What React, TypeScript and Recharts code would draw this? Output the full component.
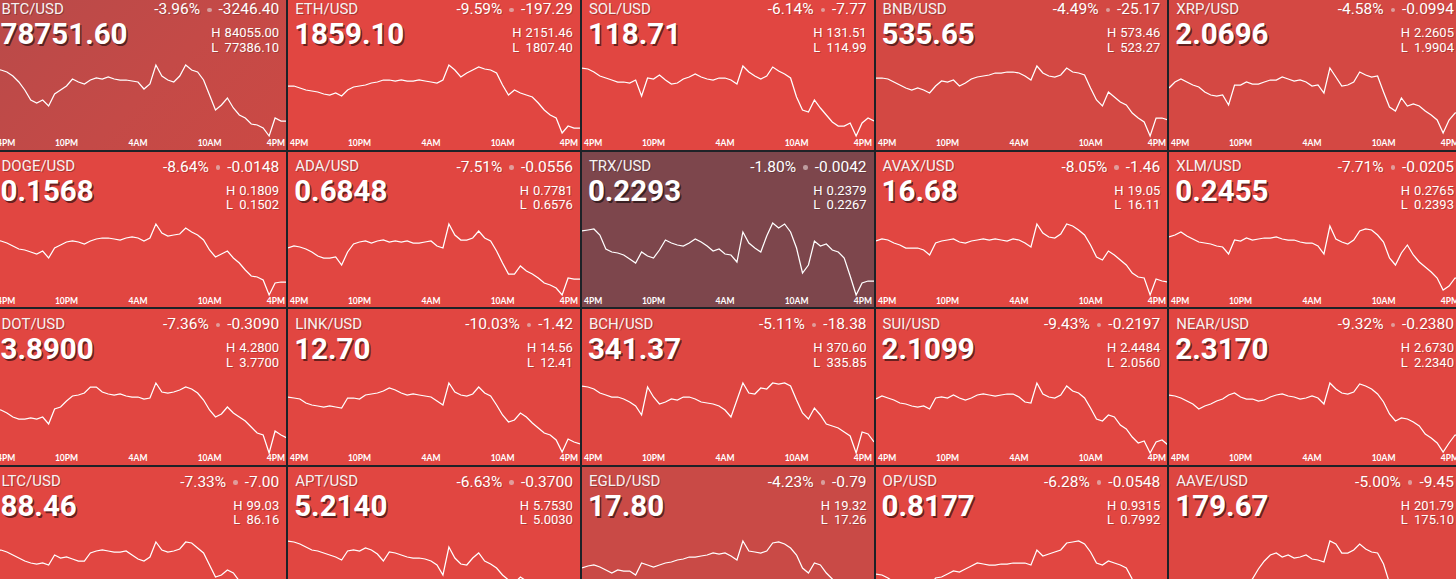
import React from 'react';
import { LineChart, Line, XAxis, YAxis } from 'recharts';

// time in hours since 4PM (30-min steps)
const TIMES = [0, 0.5, 1, 1.5, 2, 2.5, 3, 3.5, 4, 4.5, 5, 5.5, 6, 6.5, 7, 7.5, 8, 8.5, 9, 9.5, 10, 10.5, 11, 11.5, 12, 12.5, 13, 13.5, 14, 14.5, 15, 15.5, 16, 16.5, 17, 17.5, 18, 18.5, 19, 19.5, 20, 20.5, 21, 21.5, 22, 22.5, 23, 23.5, 24, 24.5];
const TICKS = [0, 6, 12, 18, 24];
const TICK_LABELS = ['4PM', '10PM', '4AM', '10AM', '4PM'];

const SYMBOLS = ['BTC/USD', 'ETH/USD', 'SOL/USD', 'BNB/USD', 'XRP/USD', 'DOGE/USD', 'ADA/USD', 'TRX/USD', 'AVAX/USD', 'XLM/USD', 'DOT/USD', 'LINK/USD', 'BCH/USD', 'SUI/USD', 'NEAR/USD', 'LTC/USD', 'APT/USD', 'EGLD/USD', 'OP/USD', 'AAVE/USD'];
const PRICES = ['78751.60', '1859.10', '118.71', '535.65', '2.0696', '0.1568', '0.6848', '0.2293', '16.68', '0.2455', '3.8900', '12.70', '341.37', '2.1099', '2.3170', '88.46', '5.2140', '17.80', '0.8177', '179.67'];
const PCTS = ['-3.96%', '-9.59%', '-6.14%', '-4.49%', '-4.58%', '-8.64%', '-7.51%', '-1.80%', '-8.05%', '-7.71%', '-7.36%', '-10.03%', '-5.11%', '-9.43%', '-9.32%', '-7.33%', '-6.63%', '-4.23%', '-6.28%', '-5.00%'];
const CHANGES = ['-3246.40', '-197.29', '-7.77', '-25.17', '-0.0994', '-0.0148', '-0.0556', '-0.0042', '-1.46', '-0.0205', '-0.3090', '-1.42', '-18.38', '-0.2197', '-0.2380', '-7.00', '-0.3700', '-0.79', '-0.0548', '-9.45'];
const HIGHS = ['84055.00', '2151.46', '131.51', '573.46', '2.2605', '0.1809', '0.7781', '0.2379', '19.05', '0.2765', '4.2800', '14.56', '370.60', '2.4484', '2.6730', '99.03', '5.7530', '19.32', '0.9315', '201.79'];
const LOWS = ['77386.10', '1807.40', '114.99', '523.27', '1.9904', '0.1502', '0.6576', '0.2267', '16.11', '0.2393', '3.7700', '12.41', '335.85', '2.0560', '2.2340', '86.16', '5.0030', '17.26', '0.7992', '175.10'];

// sparkline levels (relative units)
const BTC = [71, 70, 68, 64, 58, 50, 40, 37, 40, 34, 46, 50, 54, 61, 58, 56, 60, 62, 61, 63, 61, 60, 60, 59, 58, 51, 56, 75, 64, 60, 58, 64, 75, 70, 68, 60, 45, 30, 35, 42, 32, 25, 22, 16, 15, 12, 4, 22, 19, 19];
const ETH = [54, 54, 52, 50, 49, 48, 46, 45, 47, 44, 50, 53, 54, 55, 57, 58, 60, 60, 59, 60, 59, 59, 60, 59, 58, 57, 60, 75, 70, 63, 67, 70, 73, 71, 70, 67, 55, 45, 50, 47, 45, 43, 37, 30, 25, 22, 7, 14, 12, 12];
const SOL = [72, 71, 68, 64, 62, 60, 58, 58, 57, 60, 44, 62, 61, 65, 60, 56, 57, 61, 63, 66, 63, 61, 60, 62, 62, 60, 56, 74, 68, 64, 61, 64, 73, 69, 66, 62, 43, 30, 28, 40, 32, 25, 18, 14, 14, 17, 4, 17, 22, 19];
const BNB = [62, 62, 61, 58, 55, 52, 50, 52, 50, 47, 54, 59, 58, 60, 54, 57, 61, 63, 64, 65, 67, 67, 68, 68, 67, 64, 60, 74, 67, 64, 63, 65, 72, 68, 67, 65, 52, 40, 34, 48, 43, 38, 35, 27, 22, 18, 4, 22, 22, 20];
const XRP = [52, 58, 61, 58, 55, 53, 48, 45, 44, 45, 35, 55, 55, 58, 56, 56, 58, 60, 60, 63, 61, 59, 60, 58, 54, 55, 47, 72, 63, 54, 55, 58, 68, 65, 63, 64, 48, 33, 29, 42, 34, 36, 34, 29, 25, 20, 7, 20, 27, 28];
const DOGE = [58, 57, 55, 52, 49, 48, 46, 44, 47, 40, 50, 53, 56, 57, 56, 54, 57, 59, 60, 60, 59, 58, 60, 61, 60, 57, 60, 74, 65, 62, 63, 64, 70, 66, 63, 58, 48, 41, 44, 47, 40, 35, 28, 22, 21, 18, 3, 15, 16, 16];
const ADA = [50, 52, 51, 49, 46, 42, 40, 40, 41, 33, 46, 54, 56, 57, 55, 57, 58, 56, 57, 56, 57, 55, 55, 56, 57, 52, 50, 74, 63, 58, 58, 60, 67, 60, 57, 47, 35, 24, 24, 32, 27, 24, 20, 15, 13, 10, 3, 20, 19, 19];
const TRX = [67, 68, 69, 63, 49, 46, 45, 43, 39, 35, 46, 42, 40, 48, 58, 55, 53, 52, 55, 59, 56, 52, 47, 49, 44, 43, 36, 66, 55, 50, 46, 62, 75, 70, 74, 66, 50, 25, 33, 57, 52, 54, 48, 46, 40, 22, 3, 15, 17, 17];
const AVAX = [57, 59, 58, 55, 53, 50, 50, 50, 48, 43, 55, 57, 58, 59, 56, 55, 57, 58, 59, 58, 59, 58, 57, 59, 58, 55, 51, 74, 65, 61, 60, 64, 74, 72, 68, 63, 53, 41, 38, 47, 43, 38, 33, 25, 21, 20, 3, 19, 17, 16];
const XLM = [61, 63, 66, 62, 59, 56, 55, 54, 52, 51, 44, 58, 57, 60, 58, 59, 60, 60, 61, 59, 58, 58, 56, 55, 55, 52, 44, 72, 59, 56, 54, 58, 67, 69, 68, 63, 56, 40, 33, 45, 53, 43, 36, 31, 26, 20, 8, 12, 20, 20];
const DOT = [46, 45, 42, 38, 36, 36, 37, 36, 38, 31, 46, 48, 54, 59, 60, 62, 68, 68, 63, 61, 60, 61, 59, 58, 58, 56, 57, 72, 63, 62, 63, 65, 68, 66, 62, 55, 45, 38, 41, 48, 42, 38, 34, 28, 22, 20, 2, 24, 20, 17];
const LINK = [58, 57, 56, 52, 50, 49, 48, 49, 48, 47, 57, 57, 56, 60, 61, 62, 64, 67, 65, 62, 60, 61, 60, 59, 58, 54, 50, 72, 63, 60, 59, 61, 68, 62, 59, 50, 40, 33, 35, 42, 38, 32, 27, 22, 20, 15, 3, 16, 13, 11];
const BCH = [69, 68, 66, 62, 60, 58, 58, 56, 53, 49, 40, 68, 58, 51, 53, 56, 55, 58, 58, 56, 53, 52, 51, 49, 45, 38, 55, 72, 62, 61, 67, 66, 72, 71, 72, 69, 55, 42, 36, 47, 40, 31, 29, 27, 23, 19, 2, 23, 21, 13];
const SUI = [56, 59, 57, 55, 52, 51, 49, 48, 49, 46, 57, 58, 57, 60, 57, 55, 57, 60, 61, 60, 59, 60, 61, 61, 58, 53, 52, 72, 61, 58, 57, 60, 69, 64, 62, 57, 47, 36, 34, 40, 38, 30, 26, 18, 12, 14, 2, 13, 15, 10];
const NEAR = [60, 59, 57, 54, 51, 46, 49, 51, 54, 56, 60, 62, 58, 56, 56, 54, 55, 58, 60, 61, 59, 58, 56, 57, 59, 57, 51, 72, 66, 62, 61, 63, 71, 69, 66, 61, 53, 41, 34, 37, 36, 33, 29, 21, 17, 12, 3, 12, 20, 20];
const LTC = [63, 63, 61, 58, 55, 52, 50, 49, 50, 48, 58, 55, 56, 54, 52, 52, 60, 62, 63, 62, 61, 61, 62, 58, 54, 52, 56, 71, 63, 61, 62, 64, 71, 70, 65, 60, 48, 36, 38, 43, 40, 32, 27, 22, 20, 16, 3, 18, 17, 16];
const APT = [72, 71, 69, 66, 63, 62, 60, 58, 56, 53, 62, 63, 62, 65, 63, 59, 52, 61, 60, 58, 56, 55, 55, 54, 52, 48, 38, 66, 55, 49, 48, 55, 60, 52, 49, 45, 38, 33, 30, 36, 32, 26, 22, 18, 15, 12, 3, 15, 14, 13];
const EGLD = [45, 47, 48, 46, 43, 40, 43, 42, 42, 38, 50, 48, 46, 48, 50, 51, 53, 54, 56, 56, 57, 58, 60, 59, 60, 57, 53, 72, 62, 61, 60, 62, 70, 71, 69, 65, 58, 45, 40, 50, 48, 40, 34, 28, 24, 18, 5, 16, 18, 17];
const OP = [39, 38, 35, 31, 28, 27, 26, 27, 28, 26, 35, 36, 39, 42, 41, 44, 47, 50, 49, 48, 48, 49, 49, 50, 50, 50, 48, 63, 57, 59, 61, 63, 70, 71, 72, 69, 61, 50, 48, 52, 50, 48, 45, 34, 25, 20, 3, 15, 13, 12];
const AAVE = [28, 27, 26, 24, 22, 21, 20, 19, 18, 17, 15, 20, 24, 28, 34, 44, 52, 58, 60, 56, 58, 55, 56, 58, 54, 53, 51, 72, 69, 60, 60, 63, 69, 64, 61, 60, 49, 30, 24, 28, 26, 22, 18, 14, 11, 8, 3, 8, 10, 10];

const SERIES = [BTC, ETH, SOL, BNB, XRP, DOGE, ADA, TRX, AVAX, XLM, DOT, LINK, BCH, SUI, NEAR, LTC, APT, EGLD, OP, AAVE];

// styles
const BRIGHT = '#E14641';
const TILE_BG = [
  'linear-gradient(135deg, #B94A49 0%, #C44A47 55%, #CB4944 100%)',
  BRIGHT, BRIGHT, '#D34843', '#D44843',
  BRIGHT, BRIGHT, '#7D464C', BRIGHT, BRIGHT,
  BRIGHT, BRIGHT, '#DE4641', BRIGHT, BRIGHT,
  BRIGHT, BRIGHT, '#C94A46', BRIGHT, '#DD4641',
];

const FONT = 'Roboto, "Liberation Sans", Arial, sans-serif';
const TILE_W = 291.7;
const TILE_H = 155.5;
const PITCH_X = 293.7;
const PITCH_Y = 157.5;
const ORIGIN_X = -5.5;
const ORIGIN_Y = -6;
const CHART_W = 292;

const Tick = (props: any) => {
  const { x, payload } = props;
  const i = TICKS.indexOf(payload.value);
  const first = i === 0;
  const last = i === TICKS.length - 1;
  const tx = first ? 2 : last ? CHART_W - 2 : x;
  const anchor = first ? 'start' : last ? 'end' : 'middle';
  return (
    <text x={tx} y={151.8} textAnchor={anchor} fill="#ffffff" fontSize={8.5} fontFamily="Lato, sans-serif" fontWeight={700}>
      {TICK_LABELS[i]}
    </text>
  );
};

function Tile({ idx }: { idx: number }) {
  const col = idx % 5;
  const row = Math.floor(idx / 5);
  const left = ORIGIN_X + col * PITCH_X;
  const top = ORIGIN_Y + row * PITCH_Y;
  const data = TIMES.map((t, i) => ({ t, v: SERIES[idx][i] }));
  return (
    <div style={{ position: 'absolute', left, top, width: TILE_W, height: TILE_H, background: TILE_BG[idx], overflow: 'hidden', fontFamily: FONT, color: '#fff' }}>
      <div style={{ position: 'absolute', left: 0, top: 0 }}>
        <LineChart width={CHART_W} height={155} data={data} margin={{ top: 68, right: 0, bottom: 0, left: 0 }}>
          <XAxis dataKey="t" type="number" domain={[0, 24.5]} ticks={TICKS} interval={0} height={9} axisLine={false} tickLine={false} tick={<Tick />} />
          <YAxis hide domain={[0, 78]} />
          <Line dataKey="v" type="linear" stroke="#ffffff" strokeWidth={1.25} dot={false} isAnimationActive={false} />
        </LineChart>
      </div>
      <div style={{ position: 'absolute', left: 7, top: 7.7, fontSize: 15, lineHeight: '15px', color: '#f6f2f2', textShadow: '1px 1px 0 rgba(0,0,0,0.25)', whiteSpace: 'nowrap' }}>
        {SYMBOLS[idx]}
      </div>
      <div style={{ position: 'absolute', left: 6, top: 25.6, fontSize: 29.5, lineHeight: '29.5px', fontWeight: 700, textShadow: '1.5px 1.5px 0.5px rgba(0,0,0,0.55)', whiteSpace: 'nowrap' }}>
        {PRICES[idx]}
      </div>
      <div style={{ position: 'absolute', right: 7, top: 8, fontSize: 15.5, lineHeight: '15.5px', display: 'flex', alignItems: 'center', whiteSpace: 'nowrap', textShadow: '1px 1px 0 rgba(0,0,0,0.2)' }}>
        <span>{PCTS[idx]}</span>
        <span style={{ display: 'inline-block', width: 4.5, height: 4.5, borderRadius: '50%', background: 'rgba(225,205,205,0.65)', margin: '0 7px' }} />
        <span>{CHANGES[idx]}</span>
      </div>
      <div style={{ position: 'absolute', right: 7, top: 32.2, fontSize: 13, lineHeight: '14.5px', display: 'grid', gridTemplateColumns: 'auto auto', columnGap: 4, whiteSpace: 'nowrap', textShadow: '1px 1px 0 rgba(0,0,0,0.2)' }}>
        <span>H</span>
        <span style={{ textAlign: 'right' }}>{HIGHS[idx]}</span>
        <span>L</span>
        <span style={{ textAlign: 'right' }}>{LOWS[idx]}</span>
      </div>
    </div>
  );
}

export default function App() {
  return (
    <div style={{ position: 'absolute', left: 0, top: 0, width: 1456, height: 579, overflow: 'hidden', background: '#1d2227' }}>
      {SYMBOLS.map((s, i) => (
        <Tile key={s} idx={i} />
      ))}
    </div>
  );
}
